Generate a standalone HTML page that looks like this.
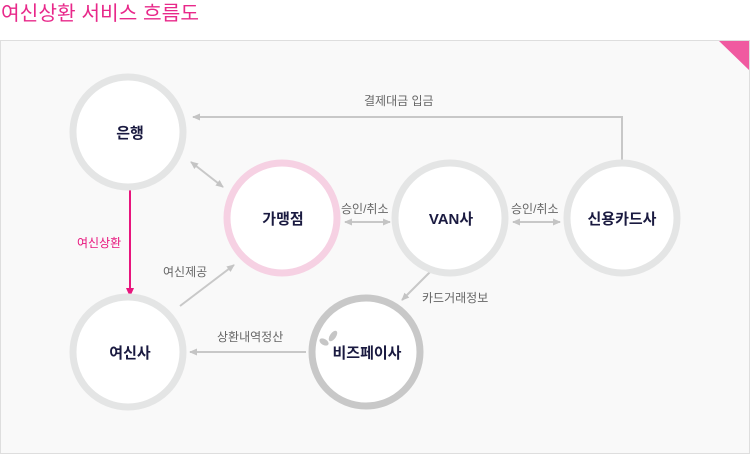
<!DOCTYPE html>
<html><head><meta charset="utf-8"><style>
body{margin:0;width:750px;height:454px;background:#fff;overflow:hidden}
svg{display:block}
text{font-family:"Liberation Sans","Noto Sans CJK KR",sans-serif}
</style></head><body>
<svg width="750" height="454" xmlns="http://www.w3.org/2000/svg">
<defs>
<marker id="g" markerWidth="8" markerHeight="8" refX="7" refY="4" orient="auto-start-reverse" markerUnits="userSpaceOnUse"><path d="M0,0.5 L8,4 L0,7.5 Z" fill="#c4c4c4"/></marker>
</defs>
<text x="1" y="20" font-size="20" fill="#e8288a" textLength="198" lengthAdjust="spacingAndGlyphs">여신상환 서비스 흐름도</text>
<rect x="0.5" y="40.5" width="749" height="413" fill="#f9f9f9" stroke="#dedede"/>
<polygon points="719,41 749,41 749,70" fill="#f05aa0"/>
<polyline points="622,160 622,117 193,117" fill="none" stroke="#c8c8c8" stroke-width="2" marker-end="url(#g)"/>
<line x1="191" y1="162" x2="223" y2="187" stroke="#c8c8c8" stroke-width="2" marker-start="url(#g)" marker-end="url(#g)"/>
<line x1="345" y1="222" x2="390" y2="222" stroke="#c8c8c8" stroke-width="2" marker-start="url(#g)" marker-end="url(#g)"/>
<line x1="513" y1="222" x2="560" y2="222" stroke="#c8c8c8" stroke-width="2" marker-start="url(#g)" marker-end="url(#g)"/>
<line x1="430" y1="272" x2="402" y2="300" stroke="#c8c8c8" stroke-width="2" marker-end="url(#g)"/>
<line x1="180" y1="306" x2="234" y2="265" stroke="#c8c8c8" stroke-width="2" marker-end="url(#g)"/>
<line x1="306" y1="352" x2="190" y2="352" stroke="#c8c8c8" stroke-width="2" marker-end="url(#g)"/>
<line x1="130" y1="185" x2="130" y2="290" stroke="#e8157d" stroke-width="2"/>
<path d="M126,288 L134,288 L130,297 Z" fill="#e8157d"/>
<circle cx="128" cy="132" r="55" fill="#fff" stroke="#e4e5e5" stroke-width="7"/>
<circle cx="282" cy="218" r="55" fill="#fff" stroke="#f6d1e3" stroke-width="7"/>
<circle cx="450" cy="218" r="55" fill="#fff" stroke="#e4e5e5" stroke-width="7"/>
<circle cx="622" cy="218" r="55" fill="#fff" stroke="#e4e5e5" stroke-width="7"/>
<circle cx="128" cy="352" r="55" fill="#fff" stroke="#e4e5e5" stroke-width="7"/>
<circle cx="366" cy="352" r="54" fill="#fff" stroke="#c8c8c8" stroke-width="7"/>
<ellipse cx="324" cy="342" rx="5" ry="3" fill="#c6c6c6" transform="rotate(30 324 342)"/>
<ellipse cx="333" cy="336" rx="3" ry="6" fill="#c6c6c6" transform="rotate(35 333 336)"/>
<g font-size="15" fill="#1a1a40" text-anchor="middle" font-weight="bold">
<text x="130" y="138">은행</text>
<text x="283" y="224">가맹점</text>
<text x="451" y="224">VAN사</text>
<text x="622" y="224">신용카드사</text>
<text x="130" y="358">여신사</text>
<text x="367" y="358">비즈페이사</text>
</g>
<g font-size="12" fill="#666">
<text x="364" y="105">결제대금 입금</text>
<text x="341" y="213">승인/취소</text>
<text x="511" y="213">승인/취소</text>
<text x="163" y="276">여신제공</text>
<text x="422" y="302">카드거래정보</text>
<text x="217" y="341">상환내역정산</text>
<text x="77" y="247" fill="#e8157d">여신상환</text>
</g>
</svg>
</body></html>
